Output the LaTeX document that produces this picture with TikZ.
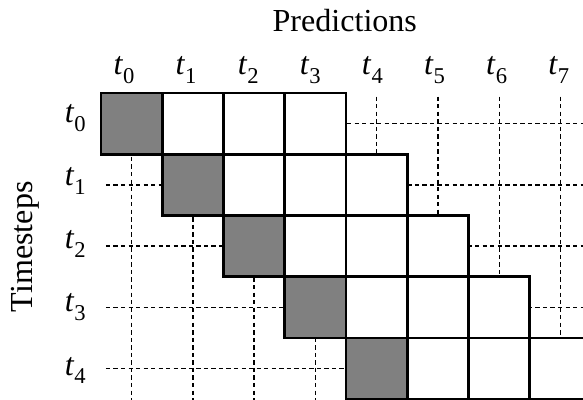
\documentclass[tikz,border=0pt]{standalone}
\usepackage{fontspec}
\setmainfont{Liberation Serif}
\colorlet{diaggray}{black!50}
\tikzset{
    % Cells of the matrix
    cellbox/.style={ rectangle, draw=black, line width=1.3pt, fill=white, minimum size=1cm, inner sep=0pt },
    diagbox/.style={ cellbox, fill=diaggray },
    % Dashed guide lines
    guide/.style={ draw=black, line width=0.6pt, dash pattern=on 2pt off 1.5pt },
    % Labels
    ticklabel/.style={ font=\fontsize{14.9}{18}\selectfont, inner sep=0pt },
    axislabel/.style={ font=\fontsize{14.9}{18}\selectfont, inner sep=0pt },
}
\newcommand{\tsub}[1]{\textit{t}\raisebox{-0.6ex}{\fontsize{10.5}{12}\selectfont #1}}

\begin{document}
\begin{tikzpicture}
    \useasboundingbox (-1.649,-5.012) rectangle (7.869,1.518);
    \clip (-1.649,-5.012) rectangle (7.869,1.518);

    % Dashed guides through the cell centres
    \foreach \i in {0,...,4}
        \draw[guide] (0.08,-\i-0.5) -- (8,-\i-0.5);
    \foreach \j in {0,...,7}
        \draw[guide] (\j+0.5,-0.06) -- (\j+0.5,-5.1);

    % Window of each timestep
    \foreach \i in {0,...,4} {
        \node[diagbox] (cell-\i-\i) at (\i+0.5,-\i-0.5) {};
        \foreach \k in {1,2,3} {
            \pgfmathtruncatemacro{\j}{\i+\k}
            \node[cellbox] (cell-\i-\j) at (\j+0.5,-\i-0.5) {};
        }
    }

    % Axis labels
    \foreach \j in {0,...,7}
        \node[ticklabel] (pred-\j) at (0.375+1.014*\j,0.375) {\tsub{\j}};
    \foreach \i in {0,...,4}
        \node[ticklabel] (step-\i) at (-0.42,-0.41-1.03*\i) {\tsub{\i}};
    \node[axislabel] (predictions) at (3.98,1.19) {Predictions};
    \node[axislabel, rotate=90] (timesteps) at (-1.24,-2.51) {Timesteps};
\end{tikzpicture}
\end{document}
